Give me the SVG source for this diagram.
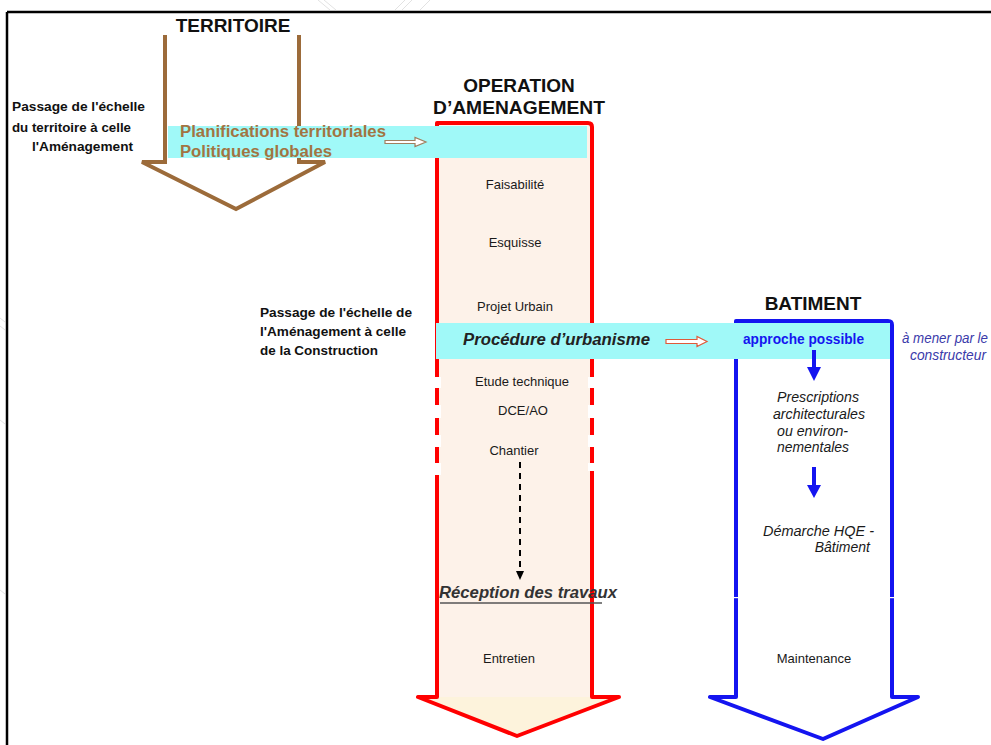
<svg xmlns="http://www.w3.org/2000/svg" width="991" height="745" viewBox="0 0 991 745">
  <style>
    text { font-family: "Liberation Sans", Arial, sans-serif; }
    .head { font-size: 19px; font-weight: bold; fill: #111; text-anchor: middle; }
    .note { font-size: 13px; font-weight: bold; fill: #111; }
    .stage { font-size: 13px; fill: #1a1a1a; text-anchor: middle; }
    .proc { font-size: 16px; font-weight: bold; font-style: italic; fill: #222; }
    .plan { font-size: 16px; font-weight: bold; fill: #A27442; }
    .bat { font-size: 14px; font-style: italic; fill: #1a1a1a; }
    .band { fill: #A0F9F8; }
    .gap { fill: #FFFFFF; }
    .wm { fill: none; stroke: #E2E2E2; stroke-width: 1; }
  </style>

  <!-- frame -->
  <g id="frame">
    <rect x="0" y="0" width="991" height="745" fill="#FFFFFF"/>
    <line x1="7" y1="12" x2="991" y2="12" stroke="#000" stroke-width="2.5"/>
    <line x1="7" y1="12" x2="7" y2="745" stroke="#000" stroke-width="2.5"/>
    <!-- faint hatch marks along the edges -->
    <path class="wm" d="M318,0 L330,10 M324,0 L336,10 M405,0 L395,10 M412,0 L402,10 M430,0 L420,10"/>
    <path class="wm" d="M0,318 L5,322 M0,326 L5,330 M0,420 L5,424 M0,590 L5,594"/>
  </g>

  <!-- TERRITOIRE: brown hollow arrow -->
  <g id="territoire">
    <path d="M165,35 L165,162 L142,162 L236,209 L325,162 L299,162 L299,35" fill="none" stroke="#9C6B3A" stroke-width="4" stroke-linejoin="miter"/>
    <text class="head" x="233" y="32">TERRITOIRE</text>
  </g>

  <!-- OPERATION D'AMENAGEMENT: red arrow -->
  <g id="operation">
    <rect x="437" y="123" width="155" height="574" fill="#FDF2E9"/>
    <polygon points="418,697 619,697 517,736" fill="#FDF3DC"/>
    <path d="M437,697 L437,123 L588,123 Q592,123 592,127 L592,697 L619,697 L517,736 L418,697 Z" fill="none" stroke="#FF0000" stroke-width="4" stroke-linejoin="round"/>
    <!-- broken borders between the design phases -->
    <rect class="gap" x="433" y="377" width="8" height="11"/>
    <rect class="gap" x="433" y="405" width="8" height="13"/>
    <rect class="gap" x="433" y="435" width="8" height="12"/>
    <rect class="gap" x="433" y="463" width="8" height="12"/>
    <rect class="gap" x="588" y="377" width="8" height="11"/>
    <rect class="gap" x="588" y="405" width="8" height="13"/>
    <rect class="gap" x="588" y="435" width="8" height="12"/>
    <rect class="gap" x="588" y="463" width="8" height="8"/>
    <text class="head" x="519" y="92">OPERATION</text>
    <text class="head" x="519" y="114" textLength="172" lengthAdjust="spacingAndGlyphs">D’AMENAGEMENT</text>
    <text class="stage" x="515" y="189">Faisabilité</text>
    <text class="stage" x="515" y="247">Esquisse</text>
    <text class="stage" x="515" y="311">Projet Urbain</text>
    <text class="stage" x="522" y="386">Etude technique</text>
    <text class="stage" x="523" y="415">DCE/AO</text>
    <text class="stage" x="514" y="455">Chantier</text>
    <text class="proc" x="439" y="598" style="fill:#333" textLength="178" lengthAdjust="spacingAndGlyphs">Réception des travaux</text>
    <line x1="440" y1="603" x2="602" y2="603" stroke="#555" stroke-width="1.5"/>
    <text class="stage" x="509" y="663">Entretien</text>
  </g>

  <!-- BATIMENT: blue arrow -->
  <g id="batiment">
    <path d="M736,697 L736,321 L888,321 Q892,321 892,325 L892,697 L918,697 L823,739 L710,697 Z" fill="#FFFFFF" stroke="#1414F0" stroke-width="4" stroke-linejoin="round"/>
    <rect class="gap" x="732" y="597" width="8" height="1.2"/>
    <rect class="gap" x="888" y="597" width="8" height="1.2"/>
    <text class="head" x="813" y="310">BATIMENT</text>
    <text class="bat" x="777" y="402" textLength="82" lengthAdjust="spacingAndGlyphs">Prescriptions</text>
    <text class="bat" x="773" y="419" textLength="92" lengthAdjust="spacingAndGlyphs">architecturales</text>
    <text class="bat" x="777" y="436" textLength="71" lengthAdjust="spacingAndGlyphs">ou environ-</text>
    <text class="bat" x="777" y="452" textLength="72" lengthAdjust="spacingAndGlyphs">nementales</text>
    <text class="bat" x="763" y="536" textLength="111" lengthAdjust="spacingAndGlyphs">Démarche HQE -</text>
    <text class="bat" x="870" y="552" text-anchor="end">Bâtiment</text>
    <text class="stage" x="814" y="663">Maintenance</text>
  </g>

  <!-- transition bands -->
  <g id="band-territoire">
    <rect class="band" x="168" y="126" width="419" height="32"/>
    <text class="plan" x="180" y="137" textLength="206" lengthAdjust="spacingAndGlyphs">Planifications territoriales</text>
    <text class="plan" x="180" y="157" textLength="152" lengthAdjust="spacingAndGlyphs">Politiques globales</text>
  </g>

  <g id="band-urbanisme">
    <rect class="band" x="436" y="323" width="454" height="36"/>
    <text class="proc" x="463" y="345" textLength="187" lengthAdjust="spacingAndGlyphs">Procédure d’urbanisme</text>
    <text x="743" y="344" font-size="14" font-weight="bold" fill="#1515F0" textLength="121" lengthAdjust="spacingAndGlyphs">approche possible</text>
  </g>

  <!-- side notes -->
  <g id="note-territoire">
    <text class="note" x="12" y="111" textLength="133" lengthAdjust="spacingAndGlyphs">Passage de l'échelle</text>
    <text class="note" x="12" y="132" textLength="119" lengthAdjust="spacingAndGlyphs">du territoire à celle</text>
    <text class="note" x="32" y="151" textLength="101" lengthAdjust="spacingAndGlyphs">l'Aménagement</text>
  </g>

  <g id="note-construction">
    <text class="note" x="260" y="317" textLength="152" lengthAdjust="spacingAndGlyphs">Passage de l'échelle de</text>
    <text class="note" x="260" y="336" textLength="146" lengthAdjust="spacingAndGlyphs">l'Aménagement à celle</text>
    <text class="note" x="260" y="355" textLength="118" lengthAdjust="spacingAndGlyphs">de la Construction</text>
  </g>

  <g id="note-constructeur">
    <text x="902" y="343" font-size="14" font-style="italic" fill="#3A3AAA" textLength="86" lengthAdjust="spacingAndGlyphs">à mener par le</text>
    <text x="910" y="360" font-size="14" font-style="italic" fill="#3A3AAA" textLength="76" lengthAdjust="spacingAndGlyphs">constructeur</text>
  </g>

  <!-- connectors -->
  <g id="connectors">
    <polygon points="385,140.5 415,140.5 415,137.5 426,142 415,146.5 415,143.5 385,143.5" fill="#FFFFFF" stroke="#A08060" stroke-width="1.2"/>
    <polygon points="666,339.5 697,339.5 697,336.5 707,341.5 697,346.5 697,343.5 666,343.5" fill="#FFFFFF" stroke="#E05A3A" stroke-width="1.2"/>
    <line x1="520" y1="462" x2="520" y2="572" stroke="#000" stroke-width="2" stroke-dasharray="6,5"/>
    <polygon points="516,571 524,571 520,580" fill="#000"/>
    <line x1="814" y1="350" x2="814" y2="368" stroke="#1414F0" stroke-width="4"/>
    <polygon points="807,367 821,367 814,381" fill="#1414F0"/>
    <line x1="814" y1="467" x2="814" y2="486" stroke="#1414F0" stroke-width="4"/>
    <polygon points="807,485 821,485 814,498" fill="#1414F0"/>
  </g>
</svg>
